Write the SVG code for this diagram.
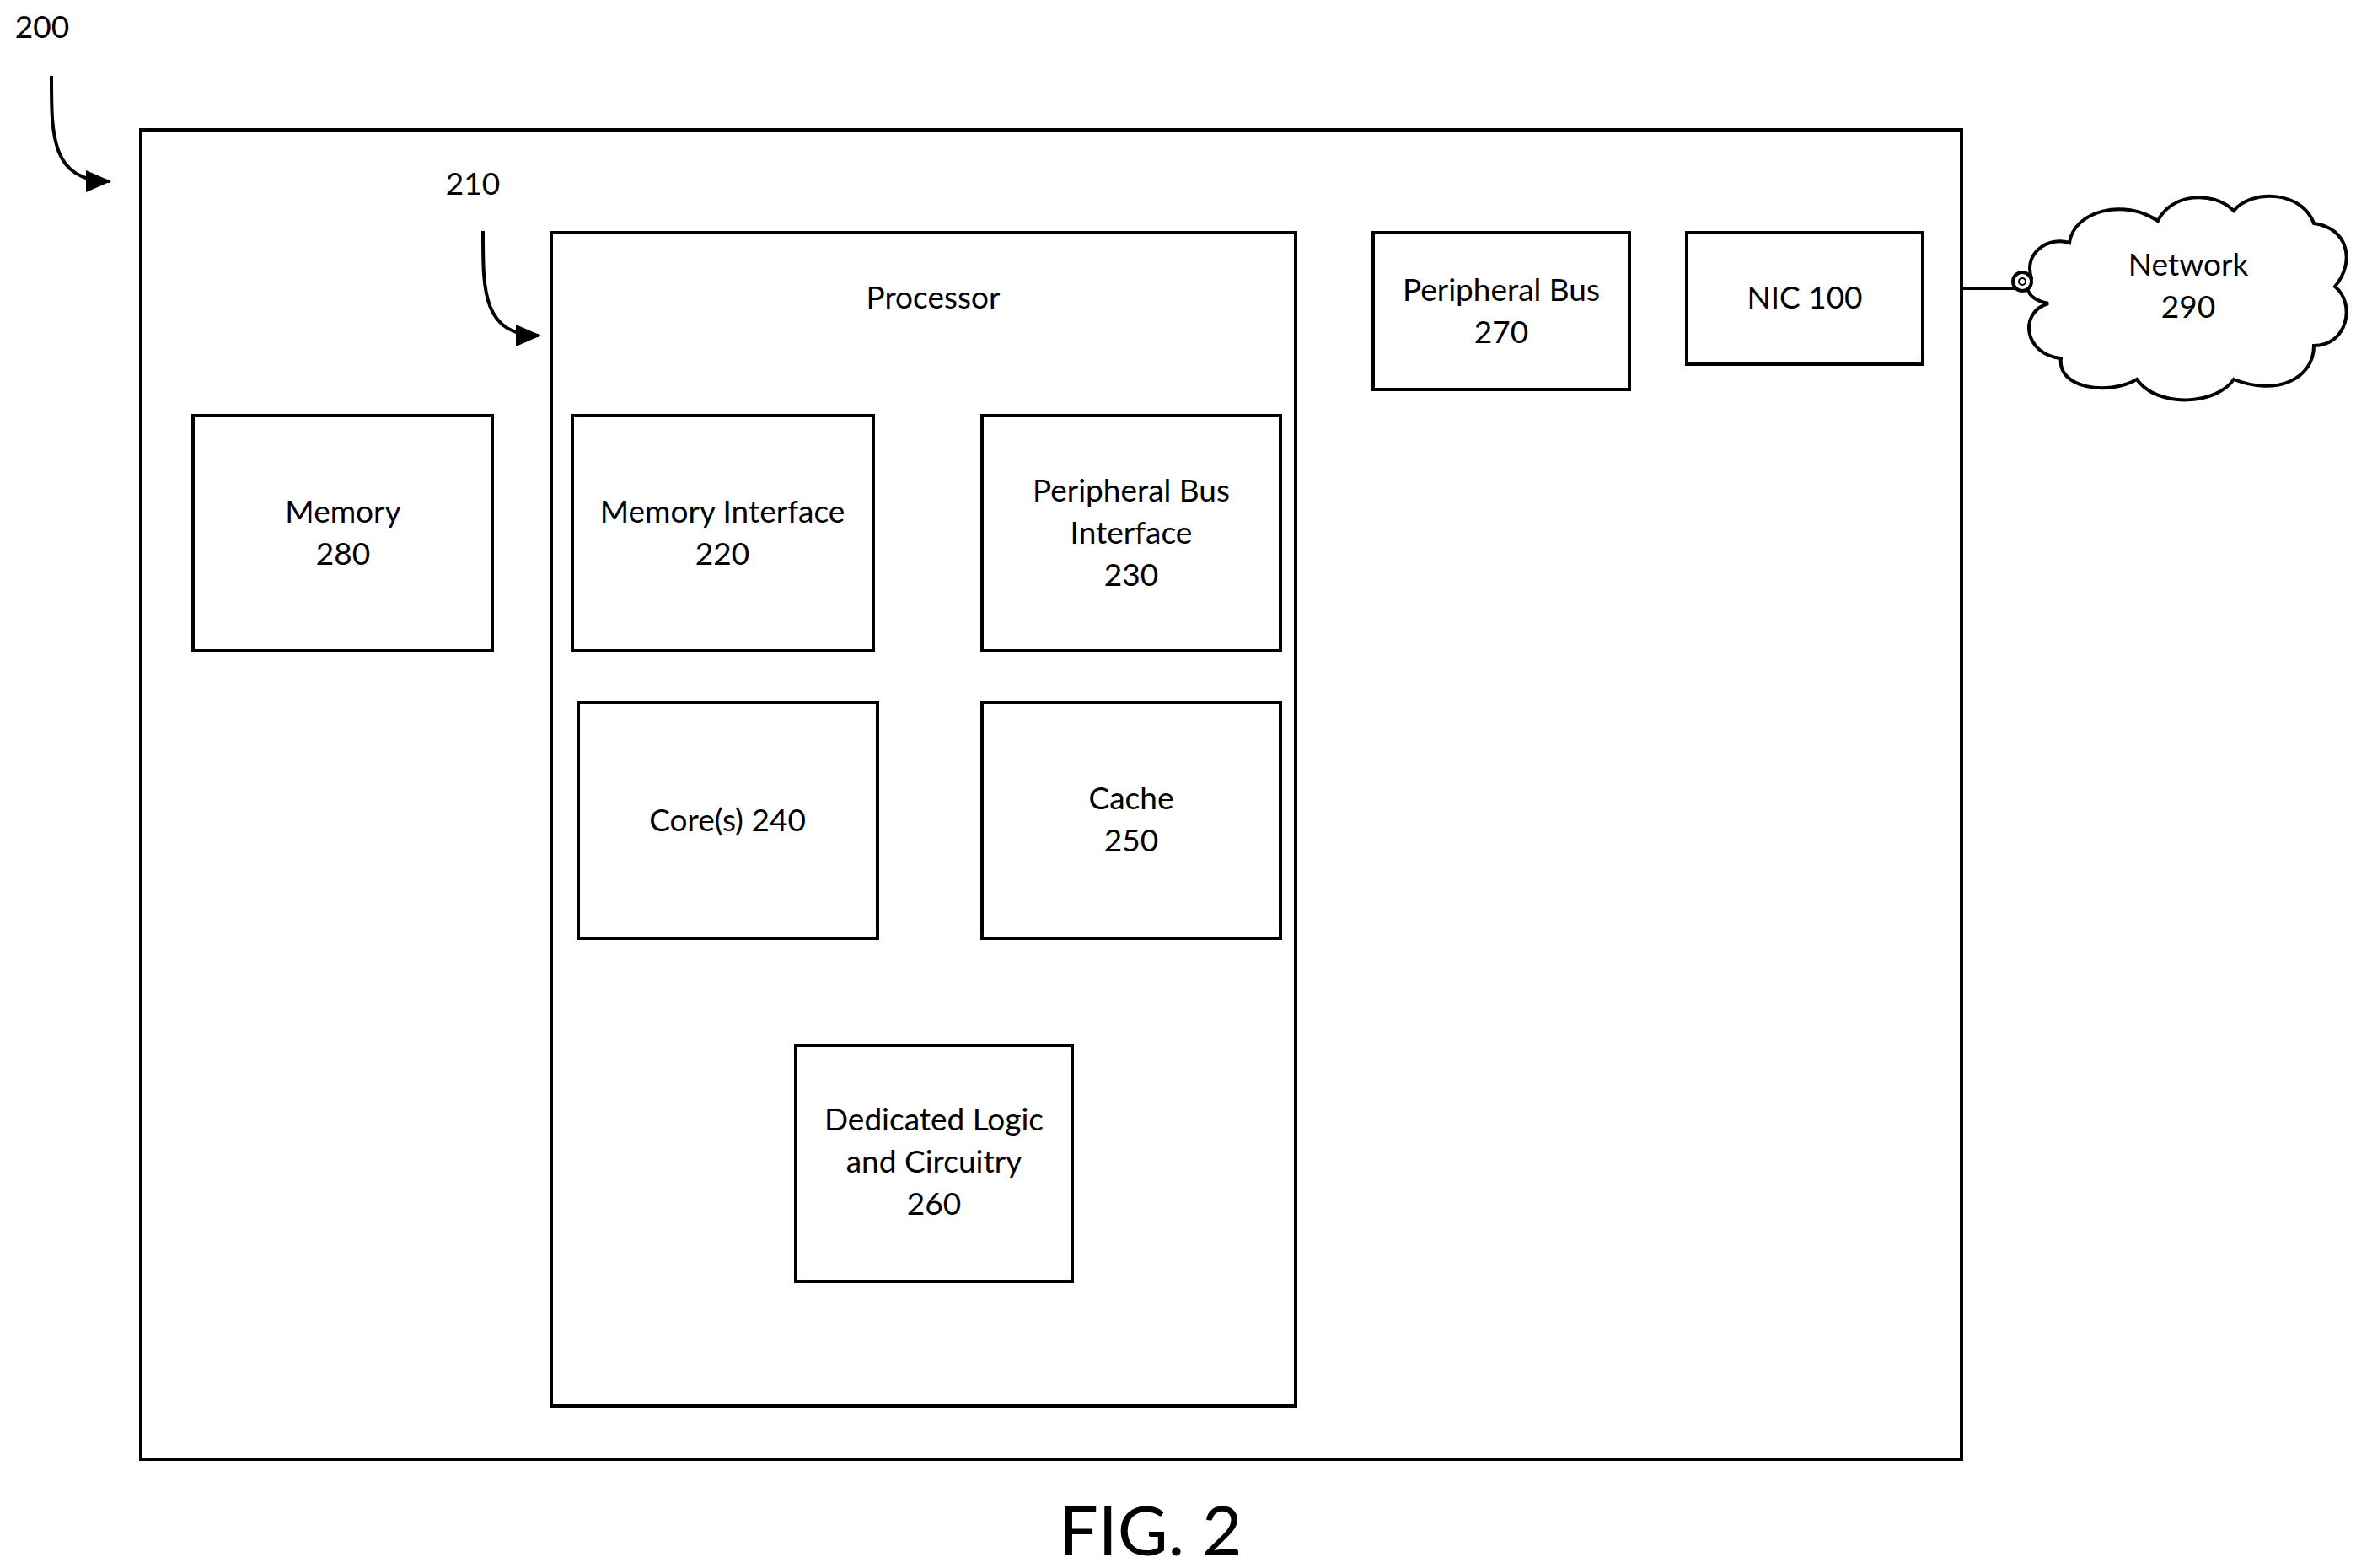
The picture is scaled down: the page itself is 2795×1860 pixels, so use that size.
<svg xmlns="http://www.w3.org/2000/svg" width="2795" height="1860" viewBox="0 0 2795 1860">
<style>
.b{fill:#fff;stroke:#000;stroke-width:4}
.t{font-family:Lato,"Open Sans","Liberation Sans",sans-serif;font-size:37px;text-anchor:middle;fill:#000}
.c{fill:none;stroke:#000;stroke-width:4}
</style>
<defs><marker id="ah" markerWidth="10" markerHeight="10" refX="8" refY="5" orient="auto" markerUnits="userSpaceOnUse" viewBox="0 0 10 10"><path d="M0,0L10,5L0,10z"/></marker>
<marker id="a" markerWidth="30" markerHeight="30" refX="28" refY="15" orient="auto" markerUnits="userSpaceOnUse"><path d="M0,2L30,15L0,28z"/></marker></defs>
<rect width="2795" height="1860" fill="#fff"/>
<g id="system"><rect class="b" x="167" y="154" width="2160" height="1577"/></g>
<g id="processor"><rect class="b" x="654" y="276" width="883" height="1392"/><text class="t" x="1107" y="366">Processor</text></g>
<g id="memory"><rect class="b" x="229" y="493" width="355" height="279"/><text class="t" x="407" y="620">Memory</text><text class="t" x="407" y="670">280</text></g>
<g id="memif"><rect class="b" x="679" y="493" width="357" height="279"/><text class="t" x="857" y="620">Memory Interface</text><text class="t" x="857" y="670">220</text></g>
<g id="pbi"><rect class="b" x="1165" y="493" width="354" height="279"/><text class="t" x="1342" y="595">Peripheral Bus</text><text class="t" x="1342" y="645">Interface</text><text class="t" x="1342" y="695">230</text></g>
<g id="cores"><rect class="b" x="686" y="833" width="355" height="280"/><text class="t" x="863" y="986">Core(s) 240</text></g>
<g id="cache"><rect class="b" x="1165" y="833" width="354" height="280"/><text class="t" x="1342" y="960">Cache</text><text class="t" x="1342" y="1010">250</text></g>
<g id="logic"><rect class="b" x="944" y="1240" width="328" height="280"/><text class="t" x="1108" y="1341">Dedicated Logic</text><text class="t" x="1108" y="1391">and Circuitry</text><text class="t" x="1108" y="1441">260</text></g>
<g id="pbus"><rect class="b" x="1629" y="276" width="304" height="186"/><text class="t" x="1781" y="357">Peripheral Bus</text><text class="t" x="1781" y="407">270</text></g>
<g id="nic"><rect class="b" x="2001" y="276" width="280" height="156"/><text class="t" x="2141" y="366">NIC 100</text></g>
<g id="network"><path class="b" d="M2410,330 C2400,300 2430,280 2455,288 C2460,250 2520,235 2560,262 C2575,230 2625,225 2650,250 C2670,225 2730,225 2745,265 C2785,270 2795,310 2770,340 C2795,360 2785,410 2745,410 C2745,450 2700,470 2650,450 C2630,480 2560,485 2535,450 C2500,470 2440,460 2445,425 C2400,420 2395,370 2430,360 C2405,355 2400,340 2410,330 Z"/><text class="t" x="2596" y="327">Network</text><text class="t" x="2596" y="377">290</text></g>
<g id="connectors">
<line class="c" x1="2327" y1="342" x2="2396" y2="342"/>
<circle cx="2399" cy="334" r="11" fill="#fff" stroke="#000" stroke-width="4"/><circle cx="2399" cy="334" r="4" fill="none" stroke="#000" stroke-width="2"/>
<path class="c" d="M61,90 C61,160 60,215 130,215" marker-end="url(#a)"/>
<path class="c" d="M573,274 C573,345 572,398 640,398" marker-end="url(#a)"/>
</g>
<text class="t" x="50" y="45">200</text>
<text class="t" x="561" y="231">210</text>
<text class="t" x="1365" y="1845" style="font-size:82px">FIG. 2</text>
</svg>
